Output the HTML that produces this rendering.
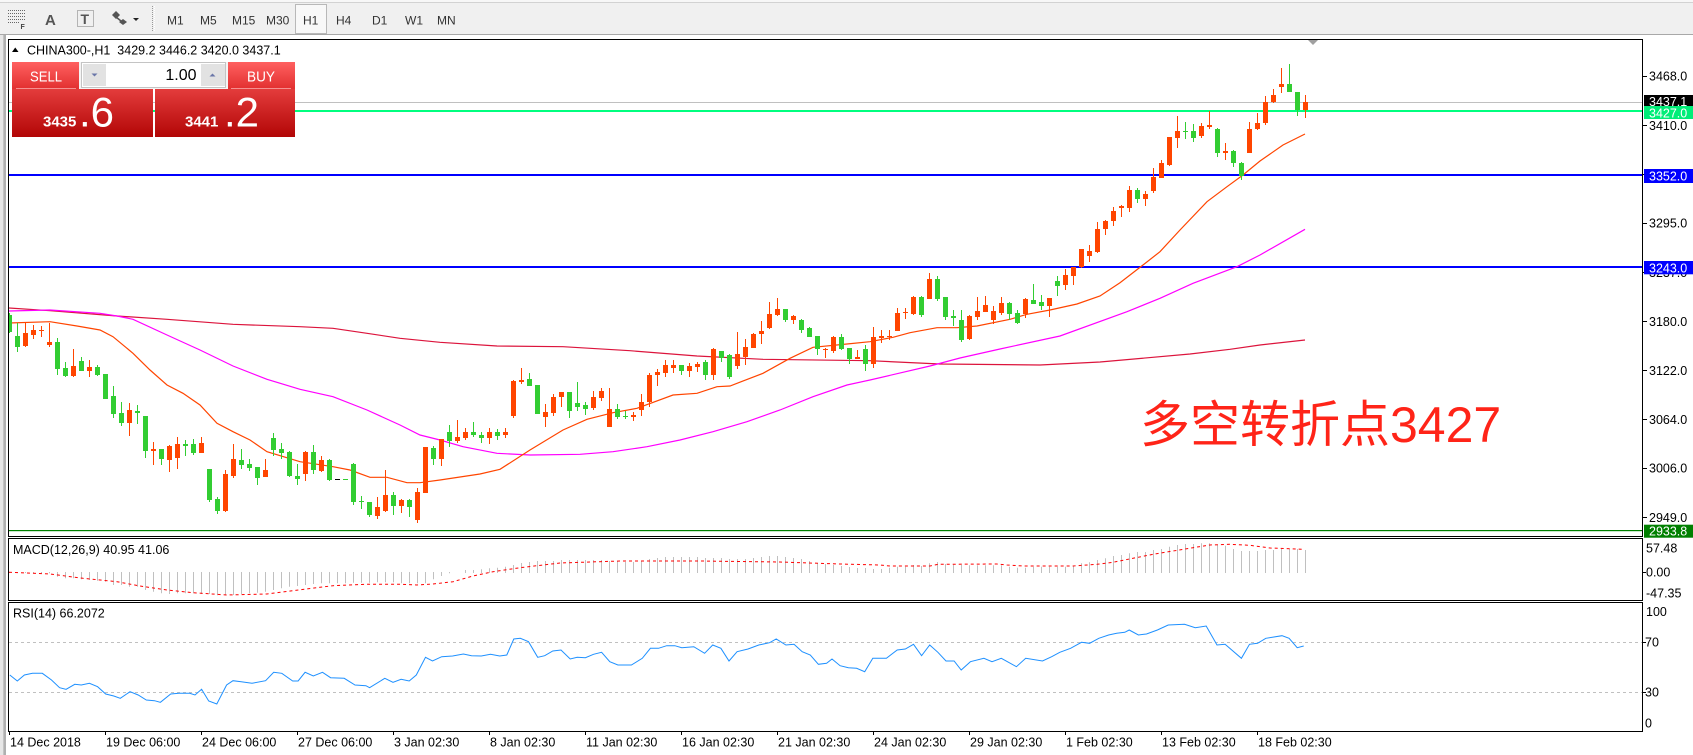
<!DOCTYPE html>
<html><head><meta charset="utf-8">
<style>
html,body{margin:0;padding:0;background:#fff;}
body{width:1693px;height:755px;overflow:hidden;}
svg{display:block;}
text{font-family:"Liberation Sans","Noto Sans CJK SC",sans-serif;}
</style></head><body>
<svg width="1693" height="755" viewBox="0 0 1693 755" xmlns="http://www.w3.org/2000/svg">
<defs>
<linearGradient id="hdr" x1="0" y1="0" x2="0" y2="1"><stop offset="0" stop-color="#ff6060"/><stop offset="1" stop-color="#e23030"/></linearGradient>
<linearGradient id="big" x1="0" y1="0" x2="0" y2="1"><stop offset="0" stop-color="#e43c3c"/><stop offset="1" stop-color="#b20606"/></linearGradient>
<clipPath id="cm"><rect x="9" y="40" width="1633" height="496"/></clipPath>
<clipPath id="cmacd"><rect x="9" y="539" width="1633" height="61"/></clipPath>
<clipPath id="crsi"><rect x="9" y="603" width="1633" height="128"/></clipPath>
</defs>
<rect x="0" y="0" width="1693" height="755" fill="#fff"/>

<!-- toolbar -->
<rect x="0" y="0" width="1693" height="35" fill="#f0f0f0"/>
<rect x="0" y="0" width="1693" height="2" fill="#f7f7f7"/>
<rect x="0" y="2" width="1693" height="1" fill="#d2d2d2"/>
<rect x="0" y="34" width="1693" height="1" fill="#a8a8a8"/>
<g stroke="#666" stroke-width="1" stroke-dasharray="1 1">
<path d="M8 10.5H26M8 13.5H26M8 16.5H26M8 19.5H26M8 22.5H19"/>
</g>
<text x="20.5" y="29" font-size="7" font-weight="bold" fill="#444">F</text>
<text x="45" y="25" font-size="15" font-weight="bold" fill="#555">A</text>
<rect x="77.5" y="10.5" width="16" height="16" fill="none" stroke="#777" stroke-dasharray="1 1"/>
<text x="80.5" y="24" font-size="14" font-weight="bold" fill="#555">T</text>
<path d="M112 15l4-4 4 4-4 4z" fill="#555"/>
<path d="M119 22l4-3 4 3-4 3z" fill="#555"/>
<path d="M116 17L121 21" stroke="#555" stroke-width="1.5"/>
<path d="M133 18h6l-3 3z" fill="#222"/>
<path d="M152.5 6V32" stroke="#999" stroke-dasharray="1 1"/>
<path d="M154.5 6V32" stroke="#fff" stroke-dasharray="1 1"/>
<rect x="295.5" y="4.5" width="31" height="29" fill="#f8f8f8" stroke="#b8b8b8"/>
<g font-size="12" fill="#333">
<text x="167" y="24.5">M1</text>
<text x="200" y="24.5">M5</text>
<text x="232" y="24.5">M15</text>
<text x="266" y="24.5">M30</text>
<text x="303" y="24.5">H1</text>
<text x="336" y="24.5">H4</text>
<text x="372" y="24.5">D1</text>
<text x="405" y="24.5">W1</text>
<text x="437" y="24.5">MN</text>
</g>

<!-- left strip -->
<rect x="0" y="35" width="3.3" height="720" fill="#e6e6e6"/>
<rect x="3.3" y="35" width="2.7" height="720" fill="#b0b0b0"/>

<!-- main chart content -->
<g clip-path="url(#cm)">
<rect x="9" y="102" width="1633" height="1" fill="#c0c0c0"/>
<rect x="9" y="110" width="1633" height="2" fill="#00ff7f"/>
<rect x="9" y="174" width="1633" height="2" fill="#0000ff"/>
<rect x="9" y="266" width="1633" height="2" fill="#0000ff"/>
<rect x="9" y="530" width="1633" height="1.2" fill="#008000"/>

<polyline fill="none" stroke="#dc143c" stroke-width="1.2" points="9,308 50,310.7 117,316 167,319.3 233,324.3 300,326.7 333,328.3 367,333.3 400,338.3 440,342.3 497,346 563,346.7 630,350.7 697,356 763,359.3 870,360.7 940,364 1040,365 1100,362 1190,354 1230,349.3 1260,345 1305,340"/>
<polyline fill="none" stroke="#ff00ff" stroke-width="1.2" points="9,311 50,310 100,313.3 117,316 133,319.3 167,335 200,350 233,366 267,379.3 300,389.3 333,396.7 367,410 400,425 420,435 440,440 463,446.7 497,453.3 530,455 580,454.3 613,451.7 647,446.7 680,440 713,431.7 747,421.7 780,410 813,396.7 847,385 870,380 930,366 960,358 1000,349 1060,336 1127,311.7 1160,298.3 1193,283.3 1237,266.7 1260,255 1305,229.3"/>
<polyline fill="none" stroke="#ff4500" stroke-width="1.2" points="9,323 50,321.7 77,326 100,330 113,336.7 133,353.3 150,370 167,385 183,393.3 200,405 217,423.3 233,431.7 250,440 267,451.7 300,461.7 333,466.7 350,470 370,477.3 387,477.3 407,482.7 420,482.7 440,480 460,477 480,474 500,469.3 530,450 563,430 587,419.3 613,412.7 637,408.3 673,395 697,393.3 717,386.7 730,386 763,373.3 790,358.3 813,347.3 847,344 870,341.7 893,337.3 910,332.7 937,327.7 957,327.7 977,326 1010,319.3 1027,314.3 1050,310 1077,304 1100,296 1120,282.7 1143,265 1160,251.7 1180,230 1207,201.7 1227,186.7 1243,175 1260,161 1283,145 1305,134"/>

<path fill="none" stroke="#32cd32" stroke-width="1" d="M9.5 313V333M17.5 323V352M57.5 338V375M65.5 362V377M81.5 357V371M97.5 365V376M105.5 374V399M113.5 386V418M121.5 402V426M137.5 405V424M145.5 416V458M161.5 449V465M185.5 440V456M193.5 439V455M209.5 469V502M217.5 497V514M241.5 449V469M249.5 459V471M257.5 467V485M273.5 433V456M281.5 443V459M289.5 451V477M297.5 464V485M313.5 445V474M329.5 459V481M353.5 463V505M361.5 496V509M369.5 502V517M393.5 492V515M409.5 499V517M433.5 446V465M449.5 425V447M473.5 422V437M481.5 432V443M497.5 429V440M529.5 373V386M537.5 385V414M569.5 392V418M577.5 382V411M585.5 402V415M617.5 404V419M625.5 411V419M681.5 365V375M705.5 360V380M721.5 351V362M729.5 354V379M785.5 309V322M801.5 319V333M809.5 327V337M817.5 336V355M841.5 334V350M849.5 348V364M865.5 345V371M921.5 296V317M937.5 276V301M945.5 297V320M953.5 310V326M961.5 310V342M1009.5 302V320M1017.5 310V324M1033.5 284V304M1041.5 295V310M1057.5 276V296M1137.5 188V203M1185.5 122V139M1193.5 124V142M1217.5 128V157M1233.5 150V167M1241.5 162V180M1289.5 64V92M1297.5 92V116"/>
<path fill="#32cd32" d="M7 315h5v17h-5zM15 336h5v11h-5zM55 342h5v27h-5zM63 368h5v8h-5zM79 361h5v10h-5zM95 367h5v8h-5zM103 374h5v25h-5zM111 396h5v18h-5zM119 413h5v10h-5zM135 411h5v2h-5zM143 416h5v35h-5zM159 449h5v10h-5zM183 444h5v2h-5zM191 444h5v9h-5zM207 469h5v31h-5zM215 499h5v12h-5zM239 460h5v5h-5zM247 464h5v4h-5zM255 467h5v11h-5zM271 438h5v12h-5zM279 449h5v4h-5zM287 452h5v24h-5zM295 476h5v3h-5zM311 452h5v18h-5zM327 460h5v20h-5zM343 479h5v1h-5zM351 464h5v38h-5zM359 501h5v1h-5zM367 502h5v13h-5zM391 495h5v11h-5zM407 500h5v7h-5zM431 448h5v11h-5zM447 432h5v9h-5zM471 432h5v3h-5zM479 435h5v3h-5zM495 432h5v4h-5zM527 379h5v7h-5zM535 385h5v29h-5zM567 392h5v19h-5zM575 403h5v4h-5zM583 405h5v4h-5zM615 409h5v8h-5zM623 416h5v1h-5zM679 365h5v6h-5zM703 362h5v13h-5zM719 351h5v7h-5zM727 355h5v22h-5zM783 309h5v11h-5zM799 320h5v10h-5zM807 328h5v9h-5zM815 336h5v13h-5zM839 337h5v12h-5zM847 348h5v11h-5zM863 349h5v15h-5zM919 297h5v18h-5zM935 279h5v20h-5zM943 297h5v20h-5zM951 316h5v2h-5zM959 320h5v20h-5zM1007 303h5v11h-5zM1015 313h5v10h-5zM1031 300h5v4h-5zM1039 302h5v4h-5zM1055 281h5v5h-5zM1135 190h5v9h-5zM1183 131h5v1h-5zM1191 131h5v7h-5zM1215 129h5v24h-5zM1231 151h5v12h-5zM1239 163h5v13h-5zM1287 84h5v8h-5zM1295 92h5v18h-5z"/>

<path fill="none" stroke="#ff4500" stroke-width="1" d="M25.5 322V347M33.5 325V339M41.5 326V337M49.5 323V347M73.5 349V377M89.5 360V377M129.5 403V436M153.5 442V465M169.5 445V472M177.5 437V469M201.5 437V453M225.5 470V512M233.5 444V478M265.5 459V477M305.5 451V481M321.5 456V472M377.5 497V519M385.5 470V512M401.5 499V513M417.5 488V523M425.5 447V493M441.5 439V466M457.5 420V443M465.5 428V440M489.5 428V444M505.5 428V438M513.5 380V418M521.5 368V384M545.5 404V427M553.5 394V416M561.5 392V407M593.5 391V410M601.5 388V401M609.5 388V427M633.5 412V421M641.5 394V416M649.5 373V407M657.5 369V386M665.5 360V377M673.5 360V373M689.5 363V377M697.5 362V372M713.5 348V380M737.5 332V369M745.5 339V365M753.5 333V348M761.5 321V344M769.5 302V329M777.5 298V316M793.5 315V324M825.5 348V358M833.5 336V353M857.5 350V359M873.5 327V368M881.5 330V343M889.5 330V340M897.5 308V331M905.5 308V319M913.5 296V315M929.5 273V299M969.5 315V340M977.5 297V320M985.5 296V312M993.5 306V324M1001.5 297V315M1025.5 298V318M1049.5 298V317M1065.5 269V290M1073.5 267V285M1081.5 249V268M1089.5 245V262M1097.5 222V253M1105.5 220V235M1113.5 207V226M1121.5 205V217M1129.5 186V212M1145.5 191V206M1153.5 168V193M1161.5 160V178M1169.5 137V166M1177.5 116V148M1201.5 123V138M1209.5 111V129M1225.5 143V160M1249.5 122V153M1257.5 113V130M1265.5 96V125M1273.5 89V103M1281.5 68V93M1305.5 95V118"/>
<path fill="#ff4500" d="M23 333h5v13h-5zM31 330h5v5h-5zM39 330h5v1h-5zM47 342h5v3h-5zM71 366h5v10h-5zM87 367h5v4h-5zM127 410h5v13h-5zM151 449h5v2h-5zM167 446h5v14h-5zM175 444h5v14h-5zM199 443h5v10h-5zM223 474h5v37h-5zM231 459h5v17h-5zM263 470h5v7h-5zM303 452h5v22h-5zM319 460h5v11h-5zM375 507h5v9h-5zM383 495h5v16h-5zM399 500h5v6h-5zM415 492h5v28h-5zM423 447h5v46h-5zM439 439h5v20h-5zM455 437h5v4h-5zM463 432h5v6h-5zM487 432h5v6h-5zM503 432h5v3h-5zM511 381h5v35h-5zM519 380h5v2h-5zM543 412h5v5h-5zM551 397h5v16h-5zM559 392h5v5h-5zM591 397h5v11h-5zM599 391h5v7h-5zM607 409h5v18h-5zM631 415h5v2h-5zM639 402h5v8h-5zM647 375h5v27h-5zM655 372h5v3h-5zM663 365h5v8h-5zM671 365h5v3h-5zM687 366h5v5h-5zM695 364h5v3h-5zM711 349h5v26h-5zM735 354h5v12h-5zM743 347h5v10h-5zM751 334h5v14h-5zM759 331h5v3h-5zM767 314h5v14h-5zM775 309h5v6h-5zM791 316h5v4h-5zM823 349h5v1h-5zM831 337h5v14h-5zM855 357h5v2h-5zM871 337h5v27h-5zM879 336h5v2h-5zM887 336h5v1h-5zM895 313h5v18h-5zM903 312h5v1h-5zM911 297h5v17h-5zM927 279h5v20h-5zM967 316h5v23h-5zM975 311h5v6h-5zM983 305h5v7h-5zM991 311h5v9h-5zM999 303h5v10h-5zM1023 299h5v15h-5zM1047 298h5v8h-5zM1063 275h5v10h-5zM1071 267h5v9h-5zM1079 249h5v18h-5zM1087 251h5v5h-5zM1095 229h5v23h-5zM1103 221h5v8h-5zM1111 211h5v10h-5zM1119 206h5v2h-5zM1127 190h5v18h-5zM1143 194h5v5h-5zM1151 177h5v14h-5zM1159 163h5v15h-5zM1167 137h5v28h-5zM1175 131h5v7h-5zM1199 126h5v10h-5zM1207 125h5v2h-5zM1223 151h5v2h-5zM1247 129h5v24h-5zM1255 123h5v6h-5zM1263 102h5v21h-5zM1271 95h5v7h-5zM1279 84h5v3h-5zM1303 102h5v8h-5z"/>
<rect x="335" y="479" width="5" height="1" fill="#000"/>
</g>

<polygon points="1308,40 1318,40 1313,45" fill="#a0a0a0"/>

<!-- big red annotation -->
<text x="1140" y="442" font-size="50" fill="#ff2418">多空转折点3427</text>

<!-- MACD -->
<g clip-path="url(#cmacd)">
<path fill="none" stroke="#c0c0c0" stroke-width="1" d="M9.5 572V573M17.5 572V573M25.5 572V573M33.5 572V573M41.5 572V573M49.5 572V573.3M57.5 572V576.7M65.5 572V578.3M73.5 572V578.3M81.5 572V579.3M89.5 572V580M97.5 572V580.7M105.5 572V581.7M113.5 572V585M121.5 572V585M129.5 572V586.7M137.5 572V586.7M145.5 572V590M153.5 572V591.7M161.5 572V593.3M169.5 572V594M177.5 572V593.3M185.5 572V593.3M193.5 572V593.3M201.5 572V594M209.5 572V594M217.5 572V595.3M225.5 572V595.3M233.5 572V595M241.5 572V594M249.5 572V593.3M257.5 572V592.7M265.5 572V591.7M273.5 572V590M281.5 572V588.3M289.5 572V586.7M297.5 572V586M305.5 572V585M313.5 572V584M321.5 572V583.3M329.5 572V583.3M337.5 572V583.3M345.5 572V583.3M353.5 572V582.7M361.5 572V582.7M369.5 572V582.7M377.5 572V582.3M385.5 572V582.3M393.5 572V582.3M401.5 572V583.3M409.5 572V583.3M417.5 572V583.3M425.5 572V583.3M433.5 572V579.3M441.5 572V576M449.5 572V573.3M465.5 573V570M473.5 573V570M481.5 573V569.3M489.5 573V568.3M497.5 573V567.7M505.5 573V566.7M513.5 573V565M521.5 573V563M529.5 573V562M537.5 573V561M545.5 573V561M553.5 573V561M561.5 573V560M569.5 573V560M577.5 573V560M585.5 573V560M593.5 573V560M601.5 573V560M609.5 573V561M617.5 573V561M625.5 573V562M633.5 573V562M641.5 573V561M649.5 573V559M657.5 573V558M665.5 573V557M673.5 573V557M681.5 573V557M689.5 573V557M697.5 573V557M705.5 573V558M713.5 573V558M721.5 573V558M729.5 573V559M737.5 573V559M745.5 573V559M753.5 573V558M761.5 573V557M769.5 573V556M777.5 573V556M785.5 573V557M793.5 573V558M801.5 573V559M809.5 573V561M817.5 573V563M825.5 573V564M833.5 573V565M841.5 573V566M849.5 573V567M857.5 573V568M865.5 573V568M873.5 573V569M881.5 573V569M889.5 573V567.7M897.5 573V566.7M905.5 573V566.7M913.5 573V565M921.5 573V566M929.5 573V563.3M937.5 573V562M945.5 573V564M953.5 573V564.7M961.5 573V564.7M969.5 573V565.3M977.5 573V565.3M985.5 573V565.3M993.5 573V565.3M1001.5 573V565.3M1009.5 573V566.7M1017.5 573V567.7M1025.5 573V567.7M1033.5 573V566.7M1041.5 573V566.7M1049.5 573V566.7M1057.5 573V566.7M1065.5 573V566.7M1073.5 573V566M1081.5 573V563.3M1089.5 573V562.3M1097.5 573V560M1105.5 573V558.3M1113.5 573V556M1121.5 573V555M1129.5 573V553.3M1137.5 573V552M1145.5 573V552M1153.5 573V550M1161.5 573V549M1169.5 573V546.7M1177.5 573V545M1185.5 573V544M1193.5 573V544M1201.5 573V543.3M1209.5 573V543.3M1217.5 573V545M1225.5 573V545.7M1233.5 573V549M1241.5 573V551M1249.5 573V551M1257.5 573V551M1265.5 573V550M1273.5 573V550M1281.5 573V549M1289.5 573V549M1297.5 573V549M1305.5 573V550"/>
<polyline fill="none" stroke="#ff0000" stroke-width="1" stroke-dasharray="3 3" points="9,572.3 50,574 83,578.3 117,581.7 140,586 167,590 193,592.7 227,595 267,594 293,590.7 333,585.7 367,584.3 400,584.3 417,585 433,584 453,581.7 473,576 493,571.7 520,567.7 560,563 620,561 700,561 780,562 840,564 880,565 890,566 930,566 938,564.3 997,564 1007,565 1023,566 1073,566 1097,564.3 1113,562.3 1133,558.3 1153,554.3 1173,551 1193,547.7 1210,545 1230,544.3 1250,545.3 1270,548 1303,549.3"/>
</g>
<text x="13" y="554" font-size="12.5" fill="#000">MACD(12,26,9) 40.95 41.06</text>

<!-- RSI -->
<g clip-path="url(#crsi)">
<path d="M9 642.5H1642M9 692.5H1642" stroke="#c0c0c0" stroke-width="1" stroke-dasharray="3 3"/>
<polyline fill="none" stroke="#1e90ff" stroke-width="1" points="9.8,675 17.3,681 24.4,675 32.5,673.3 42.3,673.3 51.5,680 59.6,687.7 66.1,689.3 74.8,684.3 81.3,685 89.4,683.3 97.6,686.7 105.7,694 113.8,696 120.3,698.3 130,691.7 138.2,695 146.3,700 154.5,700.7 160.4,702.3 170.7,694 178.9,693.3 189.7,693.3 195,695 201.6,689.3 208.7,701 216.8,704 226.6,685 233,680.7 241.2,681.7 252,683.3 265.6,680.7 273.7,672.3 281.8,673.3 292.7,681 298.1,681 305.1,672.3 313.3,676 322.5,672.3 330.6,677.7 344.2,678.3 355,685 365.9,685.7 369.6,687.7 384.8,678.3 393,682.3 401.1,679.3 409.2,681 416.3,675 425.5,657.3 432.5,661 441.7,656.7 452.6,656 463.4,654 471.5,655.7 481.3,656 490.5,654.3 499.7,656 506.8,655 513.8,639 520.3,638.3 528.5,641.7 537.7,657.3 544.7,655.7 552.8,651 561,650 570.2,659 577.2,657.3 585.4,657.7 593.5,654.3 601.6,652.3 609.8,661.7 617.9,665 631.4,665 642.3,658.3 650.4,648.3 658.5,648.3 666.7,645.7 674.8,645.7 681.8,647.7 693.8,646.7 704.6,653.3 712.7,645 720.9,648.3 729,661 737.1,651.7 748,649 758.8,645 769.6,642.7 776.2,639 785.9,645 794,644.3 802.2,651.7 810.3,655 818.4,664.3 826.6,663.3 832,659 840.1,665.7 848.4,667.7 856.6,668.3 864.7,671.7 872.8,658.3 886.4,658.3 897.2,650 905.3,649 913.5,644.3 921.6,655.7 929.7,645 937.9,652.3 946,661 954.1,661 961.2,670 970.4,661.7 983.9,658.3 992,661.7 1001.3,658.3 1016.4,666.7 1025.7,658.3 1042.5,661 1051.7,656.7 1059.8,652.3 1070.6,648.3 1081.5,642.3 1089.6,643.3 1098.8,638.3 1108.6,635 1116.7,633.3 1124.8,632.3 1129.2,630 1138.4,635 1146.5,634 1157.4,630 1168.2,625 1184.5,624.3 1195.3,627.7 1206.2,626 1217,645 1225.1,644.3 1241.4,658.3 1249.5,644.3 1257.6,643.3 1265.8,638.3 1282,635.7 1289.1,638.3 1297.2,647.7 1303.7,646"/>
</g>
<text x="13" y="617.5" font-size="12.5" fill="#000">RSI(14) 66.2072</text>

<!-- frames -->
<g fill="none" stroke="#000" stroke-width="1">
<rect x="8.5" y="39.5" width="1634" height="497"/>
<rect x="8.5" y="538.5" width="1634" height="62"/>
<rect x="8.5" y="602.5" width="1634" height="129"/>
</g>

<!-- right axis ticks -->
<path stroke="#000" stroke-width="1" d="M1643 76.5h4M1643 125.5h4M1643 174.5h4M1643 223.5h4M1643 272.5h4M1643 321.5h4M1643 370.5h4M1643 419.5h4M1643 468.5h4M1643 517.5h4M1643 572.5h3M1643 642.5h3M1643 692.5h3"/>
<g font-size="12.5" fill="#000">
<text x="1649" y="80.7">3468.0</text>
<text x="1649" y="130">3410.0</text>
<text x="1649" y="179.5">3352.0</text>
<text x="1649" y="227.7">3295.0</text>
<text x="1649" y="277">3237.0</text>
<text x="1649" y="326">3180.0</text>
<text x="1649" y="375">3122.0</text>
<text x="1649" y="424">3064.0</text>
<text x="1649" y="472.7">3006.0</text>
<text x="1649" y="522">2949.0</text>
<text x="1646" y="552.3">57.48</text>
<text x="1646" y="576.7">0.00</text>
<text x="1646" y="597.3">-47.35</text>
<text x="1646" y="616">100</text>
<text x="1645" y="646.7">70</text>
<text x="1645" y="696.7">30</text>
<text x="1645" y="727.3">0</text>
</g>
<g font-size="12.5" fill="#fff">
<rect x="1644" y="95" width="49" height="13" fill="#000"/>
<text x="1649" y="105.8">3437.1</text>
<rect x="1644" y="106" width="49" height="13" fill="#00ee78"/>
<text x="1649" y="117.3">3427.0</text>
<rect x="1644" y="169" width="49" height="14" fill="#0000ff"/>
<text x="1649" y="180.7">3352.0</text>
<rect x="1644" y="261" width="49" height="13.3" fill="#0000ff"/>
<text x="1649" y="272.3">3243.0</text>
<rect x="1644" y="524.7" width="49" height="13" fill="#008000"/>
<text x="1649" y="535.7">2933.8</text>
</g>

<!-- time axis -->
<path stroke="#000" stroke-width="1" d="M9.5 731V735M105.5 731V735M201.5 731V735M297.5 731V735M393.5 731V735M489.5 731V735M585.5 731V735M681.5 731V735M777.5 731V735M873.5 731V735M969.5 731V735M1065.5 731V735M1161.5 731V735M1257.5 731V735"/>
<g font-size="12.5" fill="#000">
<text x="10" y="746.5">14 Dec 2018</text>
<text x="106" y="746.5">19 Dec 06:00</text>
<text x="202" y="746.5">24 Dec 06:00</text>
<text x="298" y="746.5">27 Dec 06:00</text>
<text x="394" y="746.5">3 Jan 02:30</text>
<text x="490" y="746.5">8 Jan 02:30</text>
<text x="586" y="746.5">11 Jan 02:30</text>
<text x="682" y="746.5">16 Jan 02:30</text>
<text x="778" y="746.5">21 Jan 02:30</text>
<text x="874" y="746.5">24 Jan 02:30</text>
<text x="970" y="746.5">29 Jan 02:30</text>
<text x="1066" y="746.5">1 Feb 02:30</text>
<text x="1162" y="746.5">13 Feb 02:30</text>
<text x="1258" y="746.5">18 Feb 02:30</text>
</g>

<!-- header -->
<polygon points="12,52 18.5,52 15.25,47.5" fill="#000"/>
<text x="27" y="54.5" font-size="12.5" fill="#000" xml:space="preserve">CHINA300-,H1  3429.2 3446.2 3420.0 3437.1</text>

<!-- trading panel -->
<rect x="12" y="62" width="67" height="27" fill="url(#hdr)"/>
<rect x="16" y="88" width="60" height="1" fill="#f59090"/>
<text x="30" y="81.5" font-size="15" fill="#fff" textLength="32" lengthAdjust="spacingAndGlyphs">SELL</text>
<rect x="228" y="62" width="67" height="27" fill="url(#hdr)"/>
<rect x="231" y="88" width="60" height="1" fill="#f59090"/>
<text x="247" y="81.5" font-size="15" fill="#fff" textLength="28" lengthAdjust="spacingAndGlyphs">BUY</text>
<rect x="79" y="62" width="149" height="27" fill="#f4f4f4"/>
<rect x="81.5" y="62.5" width="144" height="25" fill="#fff" stroke="#c4c4c4"/>
<rect x="83" y="64" width="23" height="22" fill="#e2e2e2"/>
<path d="M91.5 73.5h6l-3 3z" fill="#6a76a8"/>
<rect x="201" y="64" width="24" height="22" fill="#e2e2e2"/>
<path d="M209.5 76.5h6l-3-3z" fill="#6a76a8"/>
<text x="196.5" y="80" font-size="16" text-anchor="end" fill="#000">1.00</text>
<rect x="12" y="89" width="141" height="48" fill="url(#big)"/>
<rect x="155" y="89" width="140" height="48" fill="url(#big)"/>
<text x="43" y="126.5" font-size="15" font-weight="bold" fill="#fff">3435</text>
<text x="79" y="126.5" font-size="42" fill="#fff">.6</text>
<text x="185" y="126.5" font-size="15" font-weight="bold" fill="#fff">3441</text>
<text x="224" y="126.5" font-size="42" fill="#fff">.2</text>
</svg>
</body></html>
